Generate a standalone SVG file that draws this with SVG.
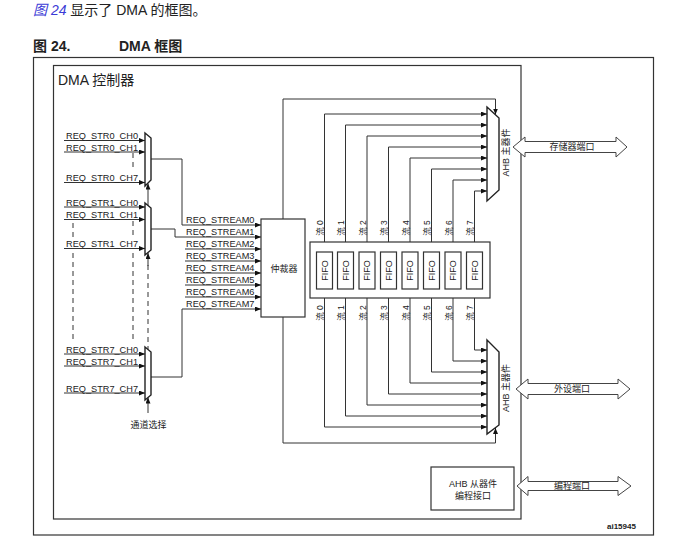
<svg xmlns="http://www.w3.org/2000/svg" width="692" height="546" viewBox="0 0 692 546">
<style>
text{font-family:"Liberation Sans","Noto Sans CJK SC",sans-serif;fill:#222}
.lbl{font-size:9.2px}
.cjk{font-size:9px}
.ln{fill:none;stroke:#333;stroke-width:1}
.arr{fill:none;stroke:#333;stroke-width:1;marker-end:url(#ah)}
.bi{fill:none;stroke:#333;stroke-width:1;marker-start:url(#ah);marker-end:url(#ah)}
.dash{fill:none;stroke:#333;stroke-width:1;stroke-dasharray:5,4}
.box{fill:#fff;stroke:#333;stroke-width:1.2}
.mux{fill:#fff;stroke:#222;stroke-width:1.4}
.port{fill:#fff;stroke:#444;stroke-width:1}
</style>
<defs>
<marker id="ah" viewBox="0 0 6 5" refX="6" refY="2.5" markerWidth="6" markerHeight="5" markerUnits="userSpaceOnUse" orient="auto-start-reverse">
<path d="M0,0 L6,2.5 L0,5 z" fill="#111"/>
</marker>
</defs>
<rect width="692" height="546" fill="#fff"/>

<g id="heading">
<text x="33" y="15" font-size="14"><tspan fill="#3b3bd6" font-style="italic">图 24</tspan> 显示了 DMA 的框图。</text>
<text x="33" y="51" font-size="14" font-weight="bold">图 24.</text>
<text x="119" y="51" font-size="14" font-weight="bold">DMA 框图</text>
</g>

<g id="frame">
<rect x="33.5" y="57.5" width="620" height="477.5" fill="none" stroke="#333" stroke-width="1.2"/>
<rect x="53.5" y="65.5" width="467.5" height="453.5" fill="none" stroke="#333" stroke-width="1.2"/>
<text x="58" y="85" font-size="14">DMA 控制器</text>
<text x="607" y="529" font-size="8" font-weight="bold">ai15945</text>
</g>

<g id="connectors">
<!-- mux inputs -->
<line class="arr" x1="64" y1="140.5" x2="145" y2="140.5"/>
<line class="arr" x1="64" y1="152" x2="145" y2="152"/>
<line class="arr" x1="64" y1="182.5" x2="145" y2="182.5"/>
<line class="arr" x1="64" y1="207" x2="145" y2="207"/>
<line class="arr" x1="64" y1="219.5" x2="145" y2="219.5"/>
<line class="arr" x1="64" y1="248.5" x2="145" y2="248.5"/>
<line class="arr" x1="64" y1="354" x2="145" y2="354"/>
<line class="arr" x1="64" y1="366" x2="145" y2="366"/>
<line class="arr" x1="64" y1="393" x2="145" y2="393"/>
<!-- dashed continuation -->
<line class="dash" x1="133" y1="153" x2="133" y2="168"/>
<line class="dash" x1="73" y1="223" x2="73" y2="237"/>
<line class="dash" x1="133" y1="221" x2="133" y2="237"/>
<line class="dash" x1="73" y1="253" x2="73" y2="341"/>
<line class="dash" x1="133" y1="253" x2="133" y2="343"/>
<!-- channel select -->
<line class="arr" x1="148" y1="413" x2="148" y2="397.5"/>
<line class="dash" x1="148" y1="265" x2="148" y2="349"/>
<line class="arr" x1="148" y1="266" x2="148" y2="253"/>
<line class="arr" x1="148" y1="205.5" x2="148" y2="183.5"/>
<!-- mux outputs to arbiter -->
<path class="arr" d="M151,159 H182 V225 H261"/>
<path class="arr" d="M151,229 H175 V237 H261"/>
<path class="arr" d="M185,249 H261"/>
<path class="arr" d="M185,261 H261"/>
<path class="arr" d="M185,273 H261"/>
<path class="arr" d="M185,285 H261"/>
<path class="arr" d="M185,297 H261"/>
<path class="arr" d="M151,377 H182 V309 H261"/>
<!-- arbiter to AHB masters -->
<path class="arr" d="M283,219 V99 H495.5 V114.5"/>
<path class="arr" d="M283,317 V443 H495.5 V428"/>
<!-- FIFO to memory AHB master -->
<path class="bi" d="M487,114 H324.5 V252"/>
<path class="bi" d="M487,125 H345.5 V252"/>
<path class="bi" d="M487,136 H367 V252"/>
<path class="bi" d="M487,147 H388.5 V252"/>
<path class="bi" d="M487,158 H410 V252"/>
<path class="bi" d="M487,169 H431.5 V252"/>
<path class="bi" d="M487,180 H453 V252"/>
<path class="bi" d="M487,191 H474.5 V252"/>
<!-- FIFO to peripheral AHB master -->
<path class="bi" d="M487,427 H324.5 V289"/>
<path class="bi" d="M487,416 H345.5 V289"/>
<path class="bi" d="M487,405 H367 V289"/>
<path class="bi" d="M487,394 H388.5 V289"/>
<path class="bi" d="M487,383 H410 V289"/>
<path class="bi" d="M487,372 H431.5 V289"/>
<path class="bi" d="M487,361 H453 V289"/>
<path class="bi" d="M487,350 H474.5 V289"/>
</g>

<g id="mux0">
<polygon class="mux" points="145,133 151,138 151,180 145,186"/>
<text class="lbl" x="66" y="139">REQ_STR0_CH0</text>
<text class="lbl" x="66" y="150.5">REQ_STR0_CH1</text>
<text class="lbl" x="66" y="181">REQ_STR0_CH7</text>
</g>
<g id="mux1">
<polygon class="mux" points="145,203 151,208 151,250 145,255"/>
<text class="lbl" x="66" y="205.5">REQ_STR1_CH0</text>
<text class="lbl" x="66" y="218">REQ_STR1_CH1</text>
<text class="lbl" x="66" y="247">REQ_STR1_CH7</text>
</g>
<g id="mux7">
<polygon class="mux" points="145,347 151,352 151,395 145,400"/>
<text class="lbl" x="66" y="352.5">REQ_STR7_CH0</text>
<text class="lbl" x="66" y="364.5">REQ_STR7_CH1</text>
<text class="lbl" x="66" y="391.5">REQ_STR7_CH7</text>
</g>
<g id="channel-select">
<text class="cjk" x="148.5" y="427.5" text-anchor="middle">通道选择</text>
</g>

<g id="stream-labels">
<text class="lbl" x="186" y="223">REQ_STREAM0</text>
<text class="lbl" x="186" y="235">REQ_STREAM1</text>
<text class="lbl" x="186" y="247">REQ_STREAM2</text>
<text class="lbl" x="186" y="259">REQ_STREAM3</text>
<text class="lbl" x="186" y="271">REQ_STREAM4</text>
<text class="lbl" x="186" y="283">REQ_STREAM5</text>
<text class="lbl" x="186" y="295">REQ_STREAM6</text>
<text class="lbl" x="186" y="307">REQ_STREAM7</text>
</g>

<g id="arbiter">
<rect class="box" x="261" y="219" width="44" height="98"/>
<text class="cjk" x="284" y="272" text-anchor="middle">仲裁器</text>
</g>

<g id="fifos">
<rect class="box" x="310" y="242" width="180" height="56"/>
<g font-size="9">
<rect class="box" x="316.5" y="252" width="16" height="37"/>
<text transform="translate(327.7,270.5) rotate(-90)" text-anchor="middle">FIFO</text>
<rect class="box" x="337.5" y="252" width="16" height="37"/>
<text transform="translate(348.7,270.5) rotate(-90)" text-anchor="middle">FIFO</text>
<rect class="box" x="359" y="252" width="16" height="37"/>
<text transform="translate(370.2,270.5) rotate(-90)" text-anchor="middle">FIFO</text>
<rect class="box" x="380.5" y="252" width="16" height="37"/>
<text transform="translate(391.7,270.5) rotate(-90)" text-anchor="middle">FIFO</text>
<rect class="box" x="402" y="252" width="16" height="37"/>
<text transform="translate(413.2,270.5) rotate(-90)" text-anchor="middle">FIFO</text>
<rect class="box" x="423.5" y="252" width="16" height="37"/>
<text transform="translate(434.7,270.5) rotate(-90)" text-anchor="middle">FIFO</text>
<rect class="box" x="445" y="252" width="16" height="37"/>
<text transform="translate(456.2,270.5) rotate(-90)" text-anchor="middle">FIFO</text>
<rect class="box" x="466.5" y="252" width="16" height="37"/>
<text transform="translate(477.7,270.5) rotate(-90)" text-anchor="middle">FIFO</text>
</g>
<g font-size="8.5" text-anchor="middle">
<text transform="translate(323,228) rotate(-90)">流 0</text>
<text transform="translate(344,228) rotate(-90)">流 1</text>
<text transform="translate(365.5,228) rotate(-90)">流 2</text>
<text transform="translate(387,228) rotate(-90)">流 3</text>
<text transform="translate(408.5,228) rotate(-90)">流 4</text>
<text transform="translate(430,228) rotate(-90)">流 5</text>
<text transform="translate(451.5,228) rotate(-90)">流 6</text>
<text transform="translate(473,228) rotate(-90)">流 7</text>
<text transform="translate(323,313) rotate(-90)">流 0</text>
<text transform="translate(344,313) rotate(-90)">流 1</text>
<text transform="translate(365.5,313) rotate(-90)">流 2</text>
<text transform="translate(387,313) rotate(-90)">流 3</text>
<text transform="translate(408.5,313) rotate(-90)">流 4</text>
<text transform="translate(430,313) rotate(-90)">流 5</text>
<text transform="translate(451.5,313) rotate(-90)">流 6</text>
<text transform="translate(473,313) rotate(-90)">流 7</text>
</g>
</g>

<g id="ahb-master-mem">
<polygon class="mux" points="487,107 499,118 499,190 487,201"/>
<text class="cjk" transform="translate(509.3,152.5) rotate(-90)" text-anchor="middle">AHB 主器件</text>
</g>
<g id="ahb-master-periph">
<polygon class="mux" points="487,340 499,352 499,425 487,434"/>
<text class="cjk" transform="translate(509.3,388) rotate(-90)" text-anchor="middle">AHB 主器件</text>
</g>
<g id="ahb-slave">
<rect class="box" x="431" y="467" width="83" height="43"/>
<text class="cjk" x="473" y="486.5" text-anchor="middle">AHB 从器件</text>
<text class="cjk" x="473" y="499" text-anchor="middle">编程接口</text>
</g>

<g id="port-mem">
<polygon class="port" points="513,147 525,137 525,141.5 616,141.5 616,137 627,147 616,157 616,152.5 525,152.5 525,157"/>
<text class="cjk" x="572" y="150" text-anchor="middle">存储器端口</text>
</g>
<g id="port-periph">
<polygon class="port" points="516,389 528,379 528,383.5 618,383.5 618,379 630,389 618,399 618,394.5 528,394.5 528,399"/>
<text class="cjk" x="572" y="392" text-anchor="middle">外设端口</text>
</g>
<g id="port-prog">
<polygon class="port" points="517,486 528,476.5 528,481.5 618,481.5 618,476.5 631,486 618,495.5 618,490.5 528,490.5 528,495.5"/>
<text class="cjk" x="572" y="489" text-anchor="middle">编程端口</text>
</g>
</svg>
